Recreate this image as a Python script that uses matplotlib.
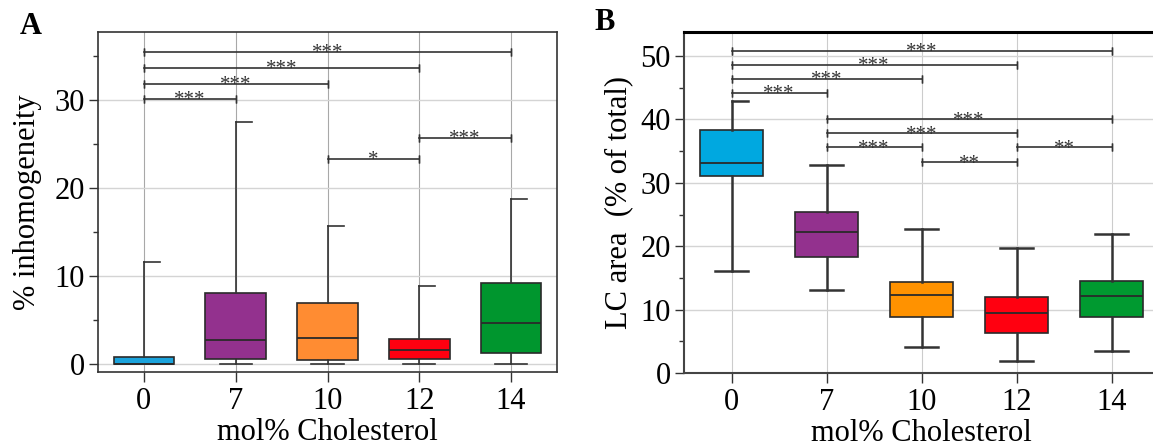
import numpy as np
import matplotlib.pyplot as plt

plt.rcParams['font.family'] = ['Liberation Serif', 'DejaVu Serif']

# categories (mol% cholesterol)
groups = ['0', '7', '10', '12', '14']

# panel A: % inhomogeneity box stats
a_whislo = [0.0, 0.0, 0.0, 0.0, 0.0]
a_q1 = [0.0, 0.53, 0.46, 0.53, 1.25]
a_med = [0.0, 2.66, 2.97, 1.60, 4.60]
a_q3 = [0.76, 7.98, 6.84, 2.78, 9.20]
a_whishi = [11.6, 27.5, 15.67, 8.86, 18.75]
# significance brackets: (from group, to group, height, label)
a_sig = [(0, 4, 35.4, '***'), (0, 3, 33.65, '***'), (0, 2, 31.8, '***'),
         (0, 1, 30.08, '***'), (3, 4, 25.7, '***'), (2, 3, 23.27, '*')]

# panel B: LC area (% of total) box stats
b_whislo = [16.14, 13.09, 4.10, 1.84, 3.52]
b_q1 = [31.07, 18.35, 8.83, 6.36, 8.78]
b_med = [33.18, 22.24, 12.25, 9.46, 12.20]
b_q3 = [38.38, 25.39, 14.30, 12.04, 14.56]
b_whishi = [42.85, 32.80, 22.77, 19.66, 21.87]
b_sig = [(0, 4, 50.79, '***'), (0, 3, 48.58, '***'), (0, 2, 46.37, '***'),
         (0, 1, 44.16, '***'), (1, 4, 40.0, '***'), (1, 3, 37.8, '***'),
         (1, 2, 35.6, '***'), (3, 4, 35.6, '**'), (2, 3, 33.23, '**')]

colors_a = ['#1ba3dc', '#93318e', '#ff8c32', '#ff0010', '#00962e']
colors_b = ['#00a8e0', '#93318e', '#ff9200', '#ff0010', '#009a30']


def draw_panel(ax, whislo, q1, med, q3, whishi, sig, colors, half_caps, wlw, vgrid):
    pos = np.arange(1, len(groups) + 1)
    stats = []
    for i in range(len(groups)):
        stats.append(dict(whislo=whislo[i], q1=q1[i], med=med[i], q3=q3[i],
                          whishi=whishi[i], fliers=[]))
    res = ax.bxp(stats, positions=pos, widths=0.66, capwidths=0.35,
                 patch_artist=True, showfliers=False,
                 boxprops=dict(edgecolor='#2a2a2a', linewidth=1.2),
                 medianprops=dict(color='#2a2a2a', linewidth=1.3),
                 whiskerprops=dict(color='#333333', linewidth=wlw),
                 capprops=dict(color='#333333', linewidth=wlw), zorder=3)
    for patch, c in zip(res['boxes'], colors):
        patch.set_facecolor(c)
    # upper caps only drawn on the right half
    for i in half_caps:
        res['caps'][2 * i + 1].set_xdata([pos[i], pos[i] + 0.175])

    for g1, g2, h, lab in sig:
        x1, x2 = pos[g1], pos[g2]
        ax.plot([x1, x2], [h, h], color='#333333', lw=1.2, zorder=4)
        ax.plot([x1, x1], [h, h], color='#333333', lw=1.2, marker='|', ms=6, zorder=4)
        ax.plot([x2, x2], [h, h], color='#333333', lw=1.2, marker='|', ms=6, zorder=4)
        ax.annotate(lab, xy=((x1 + x2) / 2, h), xytext=(0, -4.5), textcoords='offset points',
                    ha='center', va='baseline', fontsize=15, color='#333333', zorder=5)

    ax.set_xlim(0.5, 5.5)
    ax.set_xticks(pos)
    ax.set_xticklabels(groups)
    ax.grid(axis='y', color='#d4d4d4', lw=1.0, zorder=0)
    ax.grid(axis='x', color=vgrid, lw=0.8, zorder=0)
    ax.set_axisbelow(True)
    ax.tick_params(axis='both', which='major', direction='out', length=6.5, width=1.0,
                   labelsize=22, color='#333333', pad=3)
    ax.tick_params(axis='x', which='major', length=7.5)
    ax.tick_params(axis='y', which='minor', direction='out', length=3.5, width=1.0,
                   color='#333333')
    ax.tick_params(axis='x', which='minor', bottom=False)
    ax.set_xlabel('mol% Cholesterol', fontsize=22, labelpad=2)


fig = plt.figure(figsize=(11.53, 4.47), dpi=100)

axA = fig.add_axes([98 / 1153, 75 / 447, 459 / 1153, 340 / 447])
draw_panel(axA, a_whislo, a_q1, a_med, a_q3, a_whishi, a_sig, colors_a,
           half_caps=range(5), wlw=1.2, vgrid='#a8a8a8')
axA.set_ylim(-0.95, 37.7)
axA.set_yticks([0, 10, 20, 30])
axA.set_yticks([5, 15, 25, 35], minor=True)
axA.set_ylabel('% inhomogeneity', fontsize=22, labelpad=9)
for s in axA.spines.values():
    s.set_color('#333333')
    s.set_linewidth(1.2)

axB = fig.add_axes([684 / 1153, 74 / 447, 475 / 1153, 341 / 447])
draw_panel(axB, b_whislo, b_q1, b_med, b_q3, b_whishi, b_sig, colors_b,
           half_caps=[0], wlw=1.8, vgrid='#cccccc')
axB.set_ylim(0, 53.8)
axB.set_yticks([0, 10, 20, 30, 40, 50])
axB.set_yticks([5, 15, 25, 35, 45], minor=True)
axB.set_ylabel('LC area  (% of total)', fontsize=22, labelpad=5)
for s in axB.spines.values():
    s.set_color('#444444')
    s.set_linewidth(1.5)
axB.spines['top'].set_color('black')
axB.spines['top'].set_linewidth(2.2)

fig.text(31 / 1153, 1 - 27 / 447, 'A', fontsize=22, fontweight='bold', ha='center', va='center')
fig.text(605 / 1153, 1 - 23 / 447, 'B', fontsize=22, fontweight='bold', ha='center', va='center')

fig.savefig('out.png', dpi=100)
